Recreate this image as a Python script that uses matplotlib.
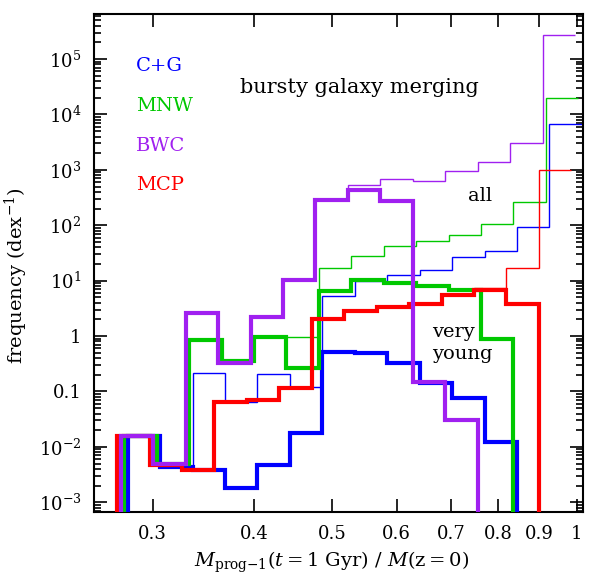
import matplotlib
matplotlib.use('Agg')
import matplotlib.pyplot as plt
import numpy as np
from matplotlib.ticker import FixedLocator, LogLocator, NullLocator, NullFormatter, FuncFormatter

plt.rcParams['font.family'] = 'DejaVu Serif'
plt.rcParams['mathtext.fontset'] = 'dejavuserif'

# bins are 0.04 dex wide in M_prog/M; each model is shifted a little in log x
log_edge0 = -0.5665
dlog = 0.04
nbins = 14

names = ['C+G', 'MNW', 'BWC', 'MCP']
colors = ['#0000ff', '#00c800', '#a020f0', '#ff0000']
shifts = [0.013, 0.0087, 0.0045, 0.0]

# "very young" (thick) histograms, frequency per dex
cg_young = [0.016, 0.0044, 0.0039, 0.0018, 0.0048, 0.0175, 0.52, 0.49, 0.32, 0.14, 0.077, 0.0124, 0, 0]
mnw_young = [0.016, 0.005, 0.85, 0.35, 0.95, 0.26, 6.4, 10.1, 9.0, 7.9, 6.8, 0.88, 0, 0]
bwc_young = [0.016, 0.005, 2.6, 0.33, 2.2, 10.4, 290, 430, 270, 0.147, 0.031, 0, 0, 0]
mcp_young = [0.016, 0.0047, 0.0038, 0.064, 0.071, 0.114, 2.0, 2.86, 3.4, 3.8, 5.6, 6.8, 3.8, 0]

# "all" (thin) histograms
cg_all = [0.016, 0.0044, 0.22, 0.065, 0.21, 0.12, 5.3, 9.7, 12.8, 15.7, 26.7, 35, 95, 6600]
mnw_all = [0.016, 0.005, 0.85, 0.35, 0.95, 0.97, 16.9, 28, 43, 53, 68, 107, 260, 19700]
bwc_all = [0.016, 0.005, 2.6, 0.33, 2.2, 10.4, 290, 542, 687, 640, 944, 1390, 3080, 2.7e5]
mcp_all = [0.016, 0.0047, 0.0038, 0.064, 0.071, 0.114, 2.0, 2.86, 3.4, 3.8, 5.6, 7.3, 17, 1000]

young = [cg_young, mnw_young, bwc_young, mcp_young]
allgal = [cg_all, mnw_all, bwc_all, mcp_all]

xticks = [0.3, 0.4, 0.5, 0.6, 0.7, 0.8, 0.9, 1.0]
xticklabels = ['0.3', '0.4', '0.5', '0.6', '0.7', '0.8', '0.9', '1']

fig = plt.figure(figsize=(5.98, 5.78), dpi=100)
ax = fig.add_axes([0.157, 0.1137, 0.8183, 0.862])

tiny = 1e-10
for i in range(4):
    edges = 10 ** (log_edge0 + shifts[i] + dlog * np.arange(nbins + 1))
    ax.stairs(allgal[i], edges, baseline=None, color=colors[i], lw=1.0, zorder=2)
for i in [0, 1, 3, 2]:
    edges = 10 ** (log_edge0 + shifts[i] + dlog * np.arange(nbins + 1))
    v = np.array(young[i], dtype=float)
    v[v <= 0] = tiny
    ax.stairs(v, edges, baseline=tiny, color=colors[i], lw=3.0, zorder=3)

ax.set_xscale('log')
ax.set_yscale('log')
ax.set_xlim(0.254, 1.019)
ax.set_ylim(6.6e-4, 6.5e5)

ax.xaxis.set_major_locator(FixedLocator(xticks))
ax.set_xticklabels(xticklabels)
ax.xaxis.set_minor_locator(NullLocator())
ax.xaxis.set_minor_formatter(NullFormatter())


def yfmt(v, pos):
    e = int(round(np.log10(v)))
    if e == 0:
        return '1'
    if e == -1:
        return '0.1'
    return r'$10^{%d}$' % e


ax.yaxis.set_major_locator(FixedLocator([10.0 ** k for k in range(-3, 6)]))
ax.yaxis.set_major_formatter(FuncFormatter(yfmt))
ax.yaxis.set_minor_locator(LogLocator(base=10, subs=np.arange(2, 10), numticks=20))
ax.yaxis.set_minor_formatter(NullFormatter())

ax.tick_params(which='both', direction='in', top=True, right=True, width=1.2)
ax.tick_params(which='major', length=9.5, labelsize=13, pad=9)
ax.tick_params(which='minor', length=5)
for s in ax.spines.values():
    s.set_linewidth(1.5)

# model labels
ybase = [0.8856, 0.8054, 0.7251, 0.6468]
for i in range(4):
    ax.text(0.086, ybase[i], names[i], color=colors[i], fontsize=14,
            transform=ax.transAxes, ha='left', va='baseline')

ax.text(0.5416, 0.8409, 'bursty galaxy merging', fontsize=15,
        transform=ax.transAxes, ha='center', va='baseline')
ax.text(0.789, 0.6253, 'all', fontsize=14, transform=ax.transAxes,
        ha='center', va='baseline')
ax.text(0.6908, 0.3524, 'very', fontsize=14, transform=ax.transAxes,
        ha='left', va='baseline')
ax.text(0.6908, 0.3076, 'young', fontsize=14, transform=ax.transAxes,
        ha='left', va='baseline')

fig.text(0.555, 0.019,
         r'$M_{\mathrm{prog}{-}1}(t{=}1\ \mathrm{Gyr})\ /\ M(\mathrm{z}{=}0)$',
         fontsize=14, ha='center', va='baseline')
fig.text(0.028, 0.5225, r'frequency (dex$^{-1}$)', fontsize=14,
         rotation=90, ha='center', va='center')

fig.savefig('out.png', dpi=100)
